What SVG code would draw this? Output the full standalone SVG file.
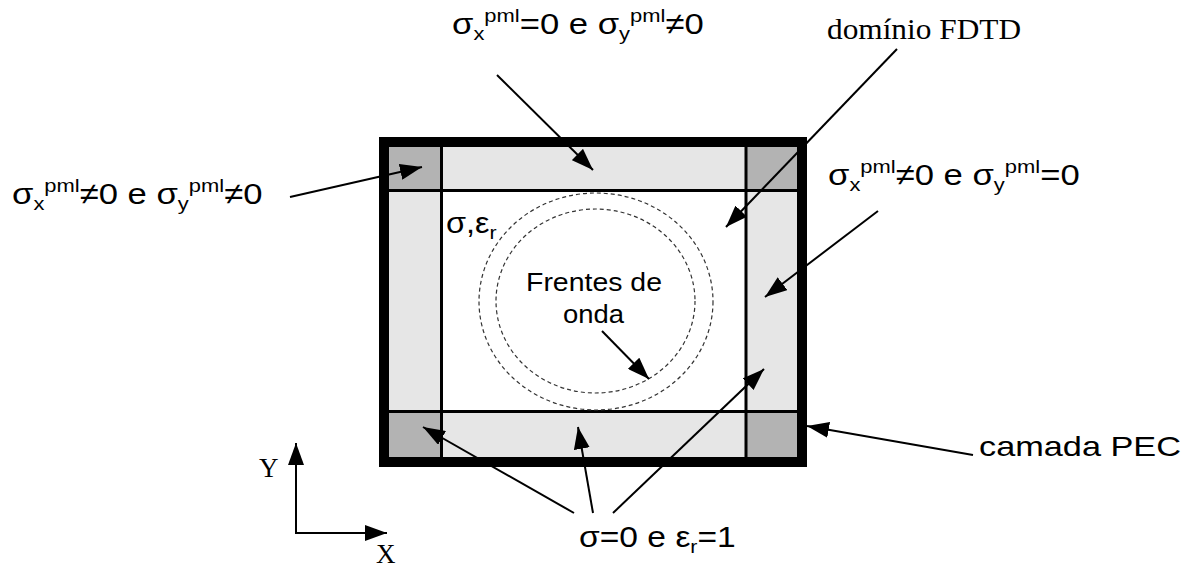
<svg xmlns="http://www.w3.org/2000/svg" width="1199" height="569" viewBox="0 0 1199 569">
<style>
.s{font-family:"Liberation Sans",Arial,sans-serif;fill:#000}
.t{font-family:"Liberation Serif","Times New Roman",serif;fill:#000}
.sm{font-size:19px}
.ln{stroke:#000;stroke-width:2;fill:none}
.dash{stroke:#333;stroke-width:1.2;fill:none;stroke-dasharray:4 3}
</style>
<defs>
<marker id="ahb" viewBox="0 0 10 10" refX="10" refY="5" markerWidth="22" markerHeight="16" markerUnits="userSpaceOnUse" orient="auto" preserveAspectRatio="none">
<path d="M0,0 L10,5 L0,10 z" fill="#000"/>
</marker>
</defs>
<rect width="1199" height="569" fill="#fff"/>
<g id="domain">
<rect x="389" y="147" width="408" height="310" fill="#e6e6e6"/>
<rect x="389" y="147" width="52" height="44" fill="#b3b3b3"/>
<rect x="746" y="147" width="51" height="44" fill="#b3b3b3"/>
<rect x="389" y="411" width="52" height="46" fill="#b3b3b3"/>
<rect x="746" y="411" width="51" height="46" fill="#b3b3b3"/>
<rect x="441" y="191" width="305" height="220" fill="#fff"/>
<line x1="441.5" y1="147" x2="441.5" y2="457" stroke="#000" stroke-width="3"/>
<line x1="746" y1="147" x2="746" y2="457" stroke="#000" stroke-width="3"/>
<line x1="389" y1="190.5" x2="797" y2="190.5" stroke="#000" stroke-width="3"/>
<line x1="389" y1="411.5" x2="797" y2="411.5" stroke="#000" stroke-width="3"/>
<rect x="384" y="142" width="418" height="320" fill="none" stroke="#000" stroke-width="10"/>
</g>
<g id="wavefronts">
<ellipse cx="596" cy="301.5" rx="117" ry="108.5" class="dash"/>
<ellipse cx="595.5" cy="301" rx="99.5" ry="92" class="dash"/>
</g>
<g id="connectors">
<line class="ln" x1="497" y1="75" x2="593" y2="170" marker-end="url(#ahb)"/>
<line class="ln" x1="290" y1="197" x2="422" y2="167" marker-end="url(#ahb)"/>
<line class="ln" x1="897" y1="49" x2="726" y2="227" marker-end="url(#ahb)"/>
<line class="ln" x1="878" y1="211" x2="765" y2="297" marker-end="url(#ahb)"/>
<line class="ln" x1="602" y1="331" x2="649" y2="379" marker-end="url(#ahb)"/>
<line class="ln" x1="973" y1="455" x2="807" y2="426" marker-end="url(#ahb)"/>
<line class="ln" x1="574" y1="513" x2="423" y2="427" marker-end="url(#ahb)"/>
<line class="ln" x1="593" y1="513" x2="578" y2="427" marker-end="url(#ahb)"/>
<line class="ln" x1="613" y1="513" x2="764" y2="369" marker-end="url(#ahb)"/>
</g>
<g id="axes">
<line class="ln" x1="296" y1="534" x2="296" y2="443" marker-end="url(#ahb)"/>
<line class="ln" x1="295" y1="533" x2="387" y2="533" marker-end="url(#ahb)"/>
<text class="t" x="259" y="477" font-size="27">Y</text>
<text class="t" x="376" y="563" font-size="27">X</text>
</g>
<g id="label-top" transform="translate(452,34) scale(1.155,1)">
<text class="s" font-size="30">σ<tspan class="sm" dy="6">x</tspan><tspan class="sm" dy="-18">pml</tspan><tspan dy="12">=0 e σ</tspan><tspan class="sm" dy="6">y</tspan><tspan class="sm" dy="-18">pml</tspan><tspan dy="12">≠0</tspan></text>
</g>
<g id="label-left" transform="translate(12,204) scale(1.155,1)">
<text class="s" font-size="30">σ<tspan class="sm" dy="6">x</tspan><tspan class="sm" dy="-18">pml</tspan><tspan dy="12">≠0 e σ</tspan><tspan class="sm" dy="6">y</tspan><tspan class="sm" dy="-18">pml</tspan><tspan dy="12">≠0</tspan></text>
</g>
<g id="label-right" transform="translate(828,185) scale(1.155,1)">
<text class="s" font-size="30">σ<tspan class="sm" dy="6">x</tspan><tspan class="sm" dy="-18">pml</tspan><tspan dy="12">≠0 e σ</tspan><tspan class="sm" dy="6">y</tspan><tspan class="sm" dy="-18">pml</tspan><tspan dy="12">=0</tspan></text>
</g>
<g id="label-domain">
<text class="t" x="827" y="39" font-size="29" textLength="194" lengthAdjust="spacingAndGlyphs">domínio FDTD</text>
</g>
<g id="label-medium" transform="translate(446,233) scale(1.12,1)">
<text class="s" font-size="29">σ,ε<tspan class="sm" dy="6">r</tspan></text>
</g>
<g id="label-wave">
<text class="s" x="526" y="291" font-size="26" textLength="136" lengthAdjust="spacingAndGlyphs">Frentes de</text>
<text class="s" x="563" y="323" font-size="26" textLength="61" lengthAdjust="spacingAndGlyphs">onda</text>
</g>
<g id="label-free" transform="translate(579,547) scale(1.12,1)">
<text class="s" font-size="30">σ=0 e ε<tspan class="sm" dy="6">r</tspan><tspan dy="-6">=1</tspan></text>
</g>
<g id="label-pec">
<text class="s" x="979" y="456" font-size="28" textLength="202" lengthAdjust="spacingAndGlyphs">camada PEC</text>
</g>
</svg>
